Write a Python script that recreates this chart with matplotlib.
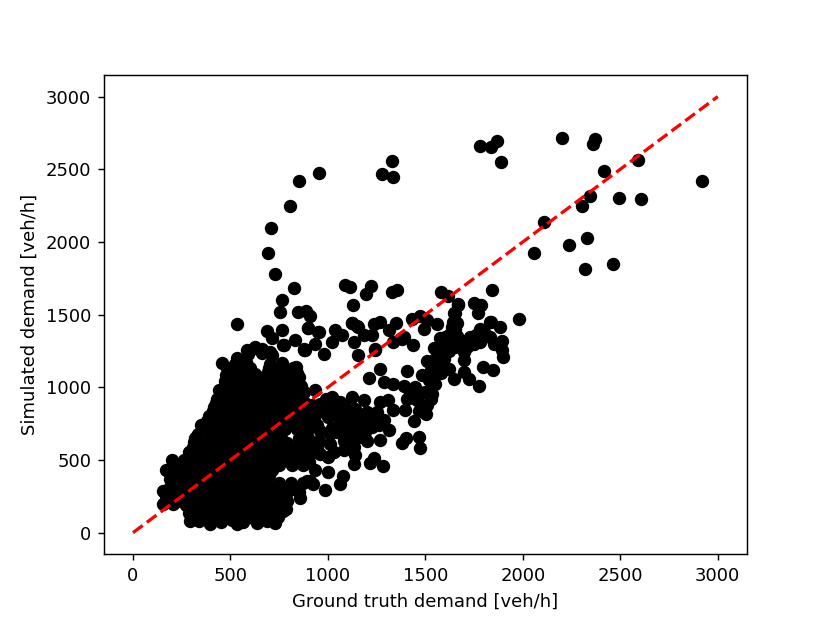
import matplotlib
matplotlib.use('Agg')
import matplotlib.pyplot as plt
import numpy as np

# (ground truth, simulated) in veh/h
top_points = [
    (952, 2473), (853, 2418), (803, 2250), (707, 2098), (694, 1926), (731, 1779),
    (824, 1682), (764, 1602), (752, 1519), (534, 1436), (1327, 2558), (1279, 2469),
    (1336, 2445), (1782, 2662), (1837, 2652), (1866, 2696), (1890, 2549), (2200, 2717),
    (2368, 2708), (2358, 2675), (2590, 2565), (2416, 2491), (2919, 2418), (2344, 2317),
    (2305, 2250), (2491, 2301), (2607, 2294), (2111, 2140), (2058, 1926), (2239, 1981),
    (2328, 2029), (2317, 1811), (2460, 1850),
]

band_points = [
    (1979, 1471), (1841, 1666), (1582, 1659), (1615, 1627), (1669, 1567), (1748, 1577),
    (1787, 1563), (1769, 1512), (1650, 1508), (1354, 1668), (1329, 1659), (1221, 1698),
    (1197, 1641), (1089, 1703), (1111, 1689), (1130, 1565), (844, 1521), (889, 1524),
    (906, 1491), (765, 1397), (687, 1388), (711, 1337), (897, 1406), (950, 1383),
    (1038, 1393), (1125, 1443), (1149, 1422), (1132, 1312), (1238, 1434), (1269, 1450),
    (1351, 1445), (1312, 1393), (1431, 1473), (1471, 1489), (1508, 1462), (1491, 1404),
    (1560, 1434), (1837, 1450), (1885, 1416), (1782, 1404), (1894, 1317), (1894, 1255),
    (776, 1289), (832, 1324), (875, 1266), (935, 1301), (1021, 1312), (1072, 1358),
    (1183, 1358), (1226, 1358), (1334, 1312), (1380, 1335), (1437, 1289), (1241, 1266),
    (627, 1278), (661, 1266), (584, 1255), (704, 1243), (896, 1405), (952, 1382),
    (884, 1255), (978, 1232), (1152, 1223), (1243, 1260), (1389, 1343), (1123, 1439),
    (1152, 1416),
]

right_points = [
    (1637, 1416), (1649, 1508), (1668, 1572), (1603, 1347), (1577, 1336), (1628, 1370),
    (1680, 1324), (1731, 1347), (1834, 1451), (1834, 1343), (1782, 1313), (1714, 1278),
    (1897, 1209), (1543, 1267), (1509, 1179), (1551, 1198), (1594, 1198), (1620, 1129),
    (1697, 1186), (1697, 1106), (1649, 1055), (1722, 1060), (1774, 1009), (1796, 1140),
    (1846, 1122), (1483, 1083), (1517, 1048), (1551, 1025), (1449, 1002), (1500, 968),
    (1534, 956), (1406, 922), (1457, 910), (1509, 876), (1397, 841), (1466, 834),
    (1505, 818), (1443, 768), (1265, 1129), (1209, 1067), (1406, 1113), (1289, 1037),
    (1334, 1025), (1392, 1007), (1620, 1250), (1650, 1280), (1700, 1240), (1750, 1300),
    (1600, 1300), (1570, 1260), (1660, 1350), (1720, 1310), (1560, 1150), (1530, 1120),
    (1580, 1100), (1540, 1080), (1640, 1450), (1650, 1400), (1660, 1440), (1640, 1320),
    (1680, 1280), (1800, 1380), (1850, 1300), (1760, 1360), (1480, 960), (1530, 920),
    (1480, 880), (1420, 960),
]

lower_points = [
    (1269, 899), (1307, 915), (1334, 841), (1312, 703), (1269, 639), (1380, 618),
    (1402, 653), (1469, 657), (1474, 584), (1218, 478), (1238, 515), (1283, 462),
    (1132, 469), (1140, 531), (875, 968), (935, 984), (1021, 933), (1123, 933),
    (1183, 915), (961, 887), (1029, 864), (1081, 876), (1140, 853), (1200, 830),
    (1243, 784), (1286, 772), (944, 738), (1003, 795), (1063, 772), (1115, 772),
    (1175, 749), (1226, 726), (1046, 692), (1115, 703), (1158, 657), (1200, 634),
    (892, 611), (952, 634), (1012, 611), (1029, 554), (1081, 634), (1132, 588),
    (909, 542), (944, 588), (858, 588), (901, 485), (935, 428), (1003, 416),
    (1077, 388), (1060, 336), (892, 358), (926, 336), (986, 294), (884, 657),
    (892, 818), (960, 700), (1020, 720), (1080, 720), (1140, 720), (1190, 690),
    (1100, 830), (1040, 830), (980, 830), (920, 880), (990, 920), (1060, 900),
    (1160, 800), (1210, 780), (1080, 660), (1010, 680), (960, 540), (1000, 520),
    (1080, 570), (930, 780), (1260, 740), (1120, 650), (1000, 870), (1250, 830),
]

core_points = [
    (199, 501), (170, 432), (156, 289), (152, 197), (207, 197), (330, 662), (409, 834),
    (455, 1168), (478, 1083), (473, 956), (592, 1232), (627, 1267), (712, 1221), (772, 1290),
    (837, 1140), (875, 1255), (293, 554), (293, 83), (395, 60), (532, 60), (635, 64),
    (729, 64), (772, 147), (858, 239), (815, 301), (909, 358),
    (340, 78), (452, 72), (508, 85), (565, 70), (688, 78), (288, 132), (342, 125),
    (398, 140), (447, 118), (512, 136), (568, 122), (628, 138), (682, 126), (272, 188),
    (322, 196), (382, 182), (438, 200), (498, 186), (558, 194), (622, 180), (676, 198),
    (742, 184), (168, 252), (222, 244), (282, 258), (338, 246), (402, 256), (458, 242),
    (522, 260), (578, 248), (642, 254), (698, 244), (762, 258), (192, 312), (238, 302),
    (302, 318), (358, 304), (422, 316), (478, 306), (542, 320), (598, 302), (662, 314),
    (722, 308), (188, 368), (252, 376), (312, 362), (368, 378), (432, 366), (488, 374),
    (552, 364), (608, 378), (672, 368), (236, 428), (296, 438), (354, 424), (416, 436),
    (474, 426), (536, 440), (594, 424), (656, 434), (714, 428), (264, 498), (326, 508),
    (384, 492), (446, 506), (504, 494), (566, 510), (624, 496), (688, 506), (758, 498),
    (288, 558), (352, 566), (408, 552), (472, 564), (528, 554), (592, 568), (652, 556),
    (708, 566), (792, 560), (848, 552), (312, 622), (368, 612), (432, 626), (488, 616),
    (552, 628), (608, 610), (672, 622), (792, 618), (332, 678), (392, 688), (448, 672),
    (512, 686), (568, 674), (632, 690), (688, 676), (752, 686), (862, 680), (348, 742),
    (412, 732), (468, 746), (532, 736), (588, 748), (652, 734), (708, 744), (772, 738),
    (832, 746), (392, 802), (472, 792), (528, 808), (592, 796), (648, 806), (712, 794),
    (768, 808), (832, 798), (418, 862), (482, 852), (538, 868), (602, 856), (658, 866),
    (722, 854), (778, 868), (842, 858), (432, 922), (488, 912), (552, 928), (608, 916),
    (672, 926), (728, 914), (792, 928), (848, 918), (442, 982), (498, 972), (562, 988),
    (618, 976), (678, 986), (742, 974), (798, 988), (862, 978), (472, 1042), (528, 1032),
    (592, 1048), (648, 1036), (712, 1046), (768, 1034), (832, 1048), (512, 1102), (572, 1092),
    (628, 1090), (692, 1106), (748, 1094), (842, 1098), (522, 1162), (578, 1172), (702, 1158),
    (762, 1168), (662, 1238), (532, 1204),
]

# the dense middle of the cloud, listed by simulated value
core_rows = {
    105: [310, 365, 425, 480, 540, 600, 655, 715, 745],
    160: [300, 360, 420, 475, 535, 600, 655, 710, 785],
    220: [180, 245, 305, 365, 425, 490, 550, 610, 670, 730, 790],
    280: [180, 250, 310, 370, 430, 490, 550, 610, 670, 730, 790, 850],
    340: [205, 270, 330, 390, 450, 510, 570, 630, 690, 750, 810, 870],
    400: [215, 280, 340, 400, 460, 520, 580, 640, 700],
    465: [215, 275, 330, 390, 450, 510, 570, 630, 690, 750, 815, 870],
    530: [300, 360, 415, 475, 535, 595, 655, 715, 775, 835, 890],
    590: [310, 380, 440, 500, 560, 620, 680, 740, 820, 870],
    650: [320, 400, 460, 520, 580, 640, 700, 760, 850, 900],
    710: [360, 420, 480, 540, 600, 660, 720, 780, 840, 900],
    770: [380, 440, 500, 560, 620, 680, 740, 800, 860, 920],
    830: [410, 450, 510, 570, 630, 690, 750, 810, 870, 930],
    890: [425, 460, 520, 580, 640, 700, 760, 820, 880],
    950: [450, 470, 530, 590, 650, 710, 770, 830],
    1010: [470, 500, 560, 620, 680, 740, 800, 860],
    1070: [490, 550, 610, 670, 730, 790, 850],
    1130: [480, 540, 600, 700, 760, 820],
}

all_points = top_points + band_points + right_points + lower_points + core_points
for sim, xs in core_rows.items():
    all_points = all_points + [(x, sim) for x in xs]
truth = np.array([p[0] for p in all_points])
simulated = np.array([p[1] for p in all_points])
ref_line = [0, 3000]

plt.figure(figsize=(830 / 130, 623 / 130), dpi=130)
plt.plot(truth, simulated, 'o', color='black', markersize=6.4)
plt.plot(ref_line, ref_line, '--', color='red', linewidth=1.8)
plt.xlabel('Ground truth demand [veh/h]')
plt.ylabel('Simulated demand [veh/h]')
plt.savefig('out.png', dpi=130)
